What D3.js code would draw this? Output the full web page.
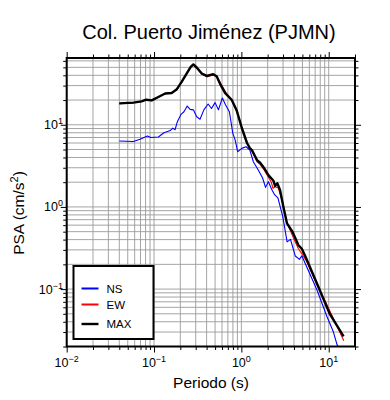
<!DOCTYPE html>
<html>
<head>
<meta charset="utf-8">
<script src="https://cdn.jsdelivr.net/npm/d3@7"></script>
<style>
  body { margin: 0; background: #fff; }
  svg { display: block; font-family: "Liberation Sans", Arial, Helvetica, sans-serif; }
</style>
</head>
<body>
<div id="chart"></div>
<script>
// periodo (s), PSA (cm/s^2)
const nsData = [
  [0.04, 6.34], [0.058, 6.26], [0.069, 6.65], [0.084, 7.3], [0.092, 7.0], [0.112, 7.1],
  [0.130, 8.0], [0.153, 8.5], [0.164, 9.1], [0.174, 8.7], [0.185, 10.9], [0.204, 13.4],
  [0.22, 14.4], [0.24, 16.9], [0.259, 15.4], [0.282, 15.2], [0.308, 12.5], [0.336, 11.7],
  [0.372, 15.2], [0.416, 17.9], [0.455, 15.8], [0.50, 18.6], [0.546, 15.2], [0.606, 21.2],
  [0.66, 17.4], [0.729, 14.4], [0.798, 7.86], [0.85, 6.5], [0.906, 4.7], [1.01, 5.16],
  [1.13, 5.4], [1.25, 4.93], [1.37, 3.55], [1.56, 2.81], [1.75, 2.25], [1.89, 1.73],
  [2.04, 2.03], [2.22, 1.64], [2.41, 1.40], [2.62, 1.29], [2.98, 0.76], [3.34, 0.376],
  [3.65, 0.403], [4.14, 0.253], [4.62, 0.23], [4.92, 0.254], [7.34, 0.0973], [9.57, 0.046],
  [11.3, 0.0302], [12.5, 0.0208], [15, 0.0155]
];
const ewData = [
  [0.04, 18.1], [0.058, 18.5], [0.072, 19.2], [0.081, 20.1], [0.094, 19.7], [0.112, 21.7],
  [0.134, 23.9], [0.159, 24.3], [0.181, 26.6], [0.207, 33.0], [0.237, 41.8], [0.263, 50.2],
  [0.282, 53.8], [0.308, 49.3], [0.352, 41.3], [0.402, 38.3], [0.476, 40.6], [0.521, 38.4],
  [0.595, 30.5], [0.68, 23.5], [0.777, 19.8], [0.887, 14.6], [1.01, 9.2], [1.16, 6.0],
  [1.32, 4.75], [1.51, 3.55], [1.64, 3.3], [1.83, 2.8], [2.04, 2.3], [2.2, 2.0],
  [2.3, 1.68], [2.45, 1.76], [2.65, 1.70], [2.9, 1.25], [3.3, 0.66], [3.94, 0.42],
  [4.5, 0.31], [4.92, 0.27], [5.62, 0.215], [7.34, 0.113], [9.57, 0.064], [14.9, 0.0235]
];
const maxData = [
  [0.04, 18.2], [0.058, 18.6], [0.072, 19.3], [0.081, 20.2], [0.094, 19.8], [0.112, 21.8],
  [0.134, 24.0], [0.159, 24.4], [0.181, 26.8], [0.207, 33.3], [0.237, 42.1], [0.263, 50.6],
  [0.282, 54.3], [0.308, 49.8], [0.352, 42.1], [0.402, 39.4], [0.476, 41.2], [0.521, 39.0],
  [0.57, 31.5], [0.65, 24.5], [0.777, 20.0], [0.887, 14.8], [1.01, 9.2], [1.16, 6.0],
  [1.25, 5.2], [1.32, 4.93], [1.51, 3.72], [1.64, 3.45], [1.83, 2.95], [2.04, 2.44],
  [2.33, 2.08], [2.43, 1.80], [2.58, 1.94], [2.77, 1.61], [3.03, 1.00], [3.33, 0.63],
  [3.86, 0.495], [4.49, 0.343], [4.92, 0.31], [5.38, 0.253], [7.34, 0.117], [10.2, 0.0507],
  [14.8, 0.0265]
];

const seriesNames = ['NS', 'EW', 'MAX'];
const xMajor = [0.01, 0.1, 1, 10];
const xExp = ['\u22122', '\u22121', '0', '1'];
const yMajor = [0.1, 1, 10];
const yExp = ['\u22121', '0', '1'];

const width = 390, height = 400;
const plot = {left: 66.7, right: 355, top: 58, bottom: 346.5};

const svg = d3.select('#chart')
    .append('svg')
    .attr('width', width)
    .attr('height', height)
    .attr('viewBox', `0 0 ${width} ${height}`);

const x = d3.scaleLog().domain([0.01, 20]).range([plot.left, plot.right]);
const y = d3.scaleLog().domain([0.02, 65]).range([plot.bottom, plot.top]);

const series = [
    {name: seriesNames[0], data: nsData, color: '#0000ff', width: 1.1},
    {name: seriesNames[1], data: ewData, color: '#ff0000', width: 1.1},
    {name: seriesNames[2], data: maxData, color: '#000000', width: 2.4}
];

// grid on every 1..9 multiple
const grid = svg.append('g').attr('stroke', '#9a9a9a').attr('stroke-width', 0.9);
grid.selectAll('.gx').data(x.ticks()).join('line')
    .attr('x1', d => x(d)).attr('x2', d => x(d))
    .attr('y1', plot.top).attr('y2', plot.bottom);
grid.selectAll('.gy').data(y.ticks()).join('line')
    .attr('x1', plot.left).attr('x2', plot.right)
    .attr('y1', d => y(d)).attr('y2', d => y(d));

svg.append('clipPath').attr('id', 'clip')
    .append('rect')
    .attr('x', plot.left).attr('y', plot.top)
    .attr('width', plot.right - plot.left).attr('height', plot.bottom - plot.top);

const line = d3.line().x(d => x(d[0])).y(d => y(d[1]));

svg.append('g').attr('clip-path', 'url(#clip)')
    .selectAll('path')
    .data(series)
    .join('path')
    .attr('d', d => line(d.data))
    .attr('fill', 'none')
    .attr('stroke', d => d.color)
    .attr('stroke-width', d => d.width)
    .attr('stroke-linejoin', 'round');

// ticks on all four sides, pointing out
function ticks(axis, scale, values, size, transform) {
    const g = svg.append('g')
        .attr('transform', transform)
        .call(axis(scale).tickValues(values).tickSize(size).tickSizeOuter(0).tickFormat(''));
    g.select('.domain').remove();
    g.selectAll('line').attr('stroke', '#000').attr('stroke-width', 1);
}
const minorX = x.ticks().filter(d => !xMajor.includes(d));
const minorY = y.ticks().filter(d => !yMajor.includes(d));
ticks(d3.axisBottom, x, minorX, 3.5, `translate(0,${plot.bottom})`);
ticks(d3.axisBottom, x, xMajor, 6, `translate(0,${plot.bottom})`);
ticks(d3.axisTop, x, minorX, 3.5, `translate(0,${plot.top})`);
ticks(d3.axisTop, x, xMajor, 6, `translate(0,${plot.top})`);
ticks(d3.axisLeft, y, minorY, 3.5, `translate(${plot.left},0)`);
ticks(d3.axisLeft, y, yMajor, 6, `translate(${plot.left},0)`);
ticks(d3.axisRight, y, minorY, 3.5, `translate(${plot.right},0)`);
ticks(d3.axisRight, y, yMajor, 6, `translate(${plot.right},0)`);

// frame
svg.append('rect')
    .attr('x', plot.left).attr('y', plot.top)
    .attr('width', plot.right - plot.left).attr('height', plot.bottom - plot.top)
    .attr('fill', 'none').attr('stroke', '#000').attr('stroke-width', 2);

// power-of-ten labels
const xl = svg.append('g').selectAll('text').data(xMajor).join('text')
    .attr('x', d => x(d)).attr('y', 367)
    .attr('text-anchor', 'middle').attr('font-size', 12.5);
xl.append('tspan').text('10');
xl.append('tspan').attr('dy', -5).attr('font-size', 9).text((d, i) => xExp[i]);

const yl = svg.append('g').selectAll('text').data(yMajor).join('text')
    .attr('x', 63).attr('y', d => y(d) + 4.5)
    .attr('text-anchor', 'end').attr('font-size', 12.5);
yl.append('tspan').text('10');
yl.append('tspan').attr('dy', -5).attr('font-size', 9).text((d, i) => yExp[i]);

// titles
svg.append('text')
    .attr('x', 209).attr('y', 39)
    .attr('text-anchor', 'middle').attr('font-size', 20)
    .text('Col. Puerto Jiménez (PJMN)');

svg.append('text')
    .attr('x', 211).attr('y', 387.5)
    .attr('text-anchor', 'middle').attr('font-size', 15.5)
    .text('Periodo (s)');

const yt = svg.append('text')
    .attr('transform', 'translate(24,213) rotate(-90)')
    .attr('text-anchor', 'middle').attr('font-size', 15.5);
yt.append('tspan').text('PSA (cm/s');
yt.append('tspan').attr('dy', -6).attr('font-size', 11).text('2');
yt.append('tspan').attr('dy', 6).text(')');

// legend
const legend = svg.append('g');
legend.append('rect')
    .attr('x', 73.5).attr('y', 266)
    .attr('width', 80).attr('height', 73)
    .attr('fill', '#fff').attr('stroke', '#000').attr('stroke-width', 2);
const legendY = [288.5, 304.5, 324];
const item = legend.selectAll('.item').data(series).join('g')
    .attr('transform', (d, i) => `translate(0,${legendY[i]})`);
item.append('line')
    .attr('x1', 81.5).attr('x2', 98.5)
    .attr('stroke', d => d.color).attr('stroke-width', d => d.name === 'MAX' ? 2.4 : 2);
item.append('text')
    .attr('x', 106.5).attr('y', 4)
    .attr('font-size', 11.5)
    .text(d => d.name);
</script>
</body>
</html>
